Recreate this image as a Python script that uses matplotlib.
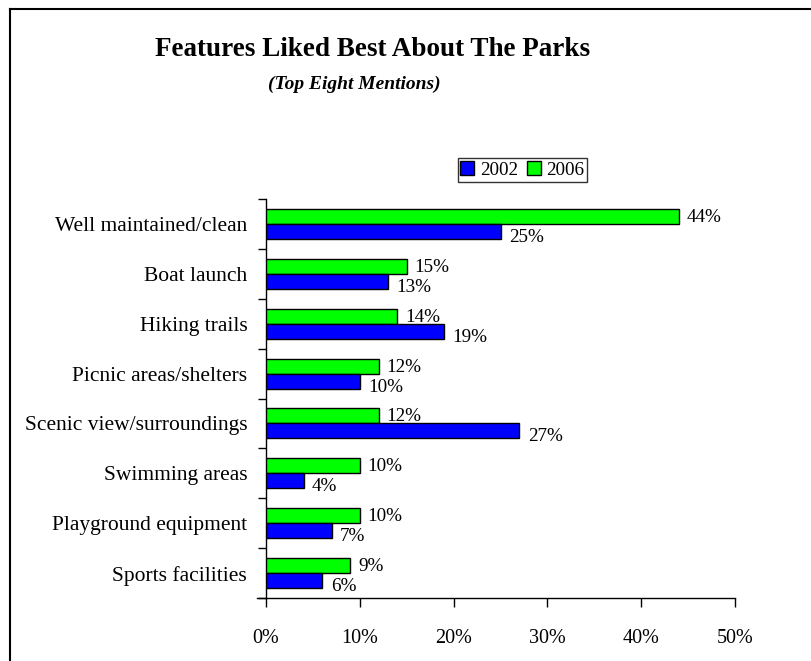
import matplotlib
matplotlib.use("Agg")
import matplotlib.pyplot as plt
from matplotlib.lines import Line2D
from matplotlib.patches import Patch
import numpy as np

plt.rcParams['font.family'] = ['Liberation Serif', 'DejaVu Serif']

# Categories listed bottom to top
categories = ["Sports facilities", "Playground equipment", "Swimming areas",
              "Scenic view/surroundings", "Picnic areas/shelters", "Hiking trails",
              "Boat launch", "Well maintained/clean"]
values_2002 = [6, 7, 4, 27, 10, 19, 13, 25]
values_2006 = [9, 10, 10, 12, 12, 14, 15, 44]
x_ticks = [0, 10, 20, 30, 40, 50]

fig = plt.figure(figsize=(8.11, 6.61), dpi=100)
ax = fig.add_axes([266 / 811, 1 - 598 / 661, 469 / 811, 399 / 661])

y = np.arange(len(categories))
h = 0.3
blue = "#0000FF"
green = "#00FF00"

ax.barh(y + h / 2, values_2006, height=h, color=green, edgecolor="black", linewidth=1.0, zorder=3)
ax.barh(y - h / 2, values_2002, height=h, color=blue, edgecolor="black", linewidth=1.0, zorder=3)

val_fs = 13.8
for yi, v in zip(y, values_2006):
    ax.text(v + 0.8, yi + h / 2 - 0.02, f"{v}%", va="center", ha="left", fontsize=val_fs)
for yi, v in zip(y, values_2002):
    ax.text(v + 0.9, yi - h / 2 - 0.12, f"{v}%", va="center", ha="left", fontsize=val_fs)

ax.set_xlim(0, 50)
ax.set_ylim(-0.5, len(categories) - 0.5)
ax.set_xticks(x_ticks)
ax.set_xticklabels([f"{t}%" for t in x_ticks], fontsize=14.5)
ax.set_yticks(y)
ax.set_yticklabels(categories, fontsize=15.5)
ax.set_yticks(np.arange(-0.5, len(categories)), minor=True)
ax.tick_params(axis="y", which="major", length=0, pad=13.5)
ax.tick_params(axis="y", which="minor", length=6, width=1.0, direction="out")
ax.tick_params(axis="x", which="major", length=6.5, width=1.0, direction="out", pad=16)

for s in ("top", "right"):
    ax.spines[s].set_visible(False)
for s in ("left", "bottom"):
    ax.spines[s].set_linewidth(1.0)

# extend baseline slightly left, meeting the lowest tick
ax.plot([-1.0, 0], [-0.5, -0.5], color="black", lw=1.0, clip_on=False, zorder=4)

# title and subtitle
fig.text(372.5 / 811, 1 - 50 / 661, "Features Liked Best About The Parks",
         ha="center", va="center", fontsize=19.5, fontweight="bold")
fig.text(354 / 811, 1 - 84 / 661, "(Top Eight Mentions)",
         ha="center", va="center", fontsize=14, fontweight="bold", fontstyle="italic")

# legend
handles = [Patch(facecolor=blue, edgecolor="black", linewidth=1.0, label="2002"),
           Patch(facecolor=green, edgecolor="black", linewidth=1.0, label="2006")]
leg = fig.legend(handles=handles, loc="center", bbox_to_anchor=(522.5 / 811, 1 - 170 / 661),
                 ncol=2, frameon=True, fancybox=False, fontsize=13.8, handlelength=0.7,
                 handleheight=0.7, handletextpad=0.3, columnspacing=0.5,
                 borderpad=0.15, borderaxespad=0)
leg.get_frame().set_edgecolor("black")
leg.get_frame().set_linewidth(1.0)

# outer frame: left and top edges
fig.add_artist(Line2D([10 / 811, 10 / 811], [0, 1 - 8.5 / 661], color="black", lw=1.5,
                      transform=fig.transFigure))
fig.add_artist(Line2D([10 / 811, 1], [1 - 8.5 / 661, 1 - 8.5 / 661], color="black", lw=1.5,
                      transform=fig.transFigure))

fig.savefig("out.png", dpi=100)
